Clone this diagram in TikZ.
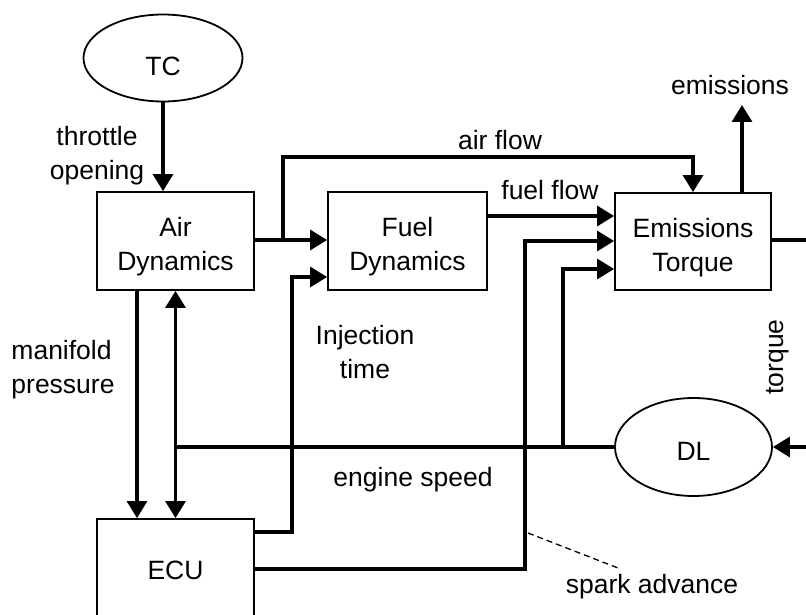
\documentclass[tikz,border=0pt]{standalone}
\usepackage{fontspec}
\setmainfont{Liberation Sans}
\usetikzlibrary{arrows.meta,shapes.geometric}
\begin{document}
\begin{tikzpicture}[x=1pt,y=-1pt,
  every node/.style={font=\fontsize{26.5}{34}\selectfont},
  blk/.style={draw,line width=1.8pt,rectangle,inner sep=0pt,align=center},
  ell/.style={draw,line width=1.8pt,ellipse,inner sep=0pt},
  conn/.style={line width=3.2pt},
  arr/.style={conn,-{Triangle[length=17pt,width=20pt]}},
  lbl/.style={align=center,inner sep=0pt}]
\clip (0,0) rectangle (806,615);
\fill[white] (0,0) rectangle (806,615);
% nodes
\node[ell,minimum width=159pt,minimum height=87pt,text height=36pt] (tc) at (163,58) {TC};
\node[blk,minimum width=157pt,minimum height=98pt,text height=64pt] (air) at (175.5,241) {Air\\Dynamics};
\node[blk,minimum width=159pt,minimum height=98pt,text height=64pt] (fuel) at (407.5,241) {Fuel\\Dynamics};
\node[blk,minimum width=156pt,minimum height=97pt,text height=65pt] (emis) at (693,241.5) {Emissions\\Torque};
\node[blk,minimum width=157pt,minimum height=102pt] (ecu) at (175.5,570) {ECU};
\node[ell,minimum width=157pt,minimum height=98pt,text height=26pt] (dl) at (693.5,447) {DL};
% free ends / junctions
\coordinate (af) at (283,240);
\coordinate (emout) at (742,105);
\coordinate (redge) at (812,240);
\coordinate (tqin) at (812,447);
\coordinate (es) at (175.5,447);
\coordinate (esb) at (563,447);
\coordinate (spk) at (528,533);
\coordinate (spkl) at (618,568);
% connectors
\draw[arr] (tc.south) -- (tc.south |- air.north);
\draw[arr] (air.east |- af) -- (fuel.west |- af);
\draw[arr] (af) -- (283,157) -| (emis.north);
\draw[arr] (fuel.east |- 0,216) -- (emis.west |- 0,216);
\draw[arr] (emis.north -| emout) -- (emout);
\draw[conn] (emis.east |- redge) -- (redge);
\draw[arr] (tqin) -- (dl.east);
\draw[arr] (air.south -| 137,0) -- (ecu.north -| 137,0);
\draw[conn,{Triangle[length=17pt,width=20pt]}-{Triangle[length=17pt,width=20pt]}] (air.south) -- (ecu.north);
\draw[line width=3.8pt] (dl.west) -- (es);
\draw[arr] (esb) -- (563,269) -- (emis.west |- 0,269);
\draw[arr] (ecu.east |- 0,532) -- (292,532) -- (292,277) -- (fuel.west |- 0,277);
\draw[arr] (ecu.east |- 0,569) -- (525,569) -- (525,241) -- (emis.west |- 0,241);
\draw[line width=1.3pt,dash pattern=on 6pt off 4pt] (spk) -- (spkl);
% labels
\node[lbl] (l1) at (97,156) {throttle\\opening};
\node[lbl] (l2) at (500,140) {air flow};
\node[lbl] (l3) at (550,190) {fuel flow};
\node[lbl] (l4) at (730,85) {emissions};
\node[lbl,rotate=90] (l5) at (778,357) {torque};
\node[lbl,align=left] (l6) at (63,370) {manifold\\pressure};
\node[lbl] (l7) at (365,352) {Injection\\time};
\node[lbl] (l8) at (413,480) {engine speed};
\node[lbl] (l9) at (652,587) {spark advance};
\end{tikzpicture}
\end{document}
